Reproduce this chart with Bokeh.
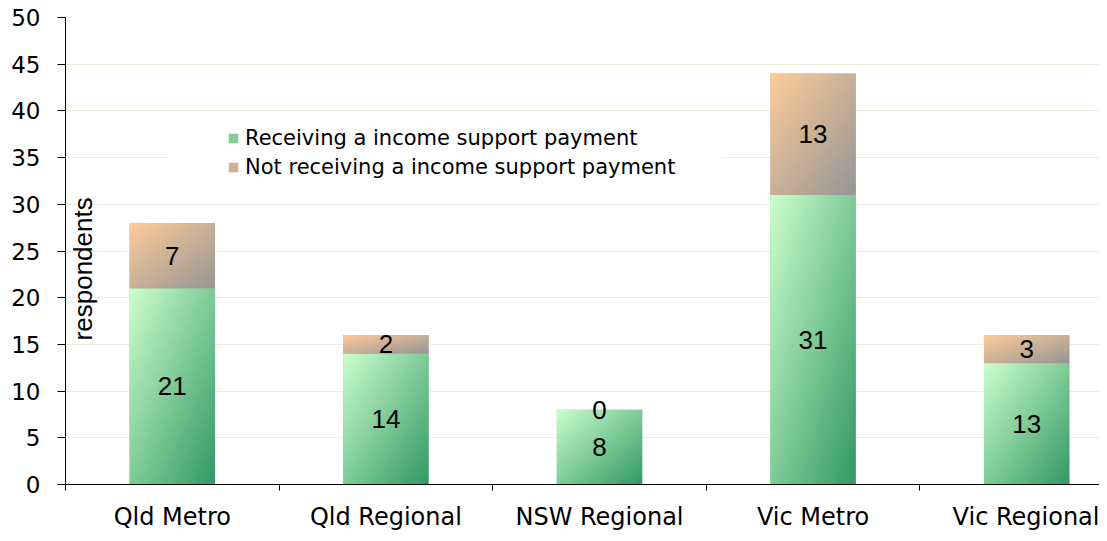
import numpy as np
from bokeh.plotting import figure
from bokeh.models import (FixedTicker, Range1d, Label, ColumnDataSource, Legend,
                          LegendItem, BoxAnnotation)
from bokeh.embed import file_html
from bokeh.resources import INLINE
from bokeh.core.properties import value

# ---- data ----
categories = ["Qld Metro", "Qld Regional", "NSW Regional", "Vic Metro", "Vic Regional"]
receiving = [21, 14, 8, 31, 13]
not_receiving = [7, 2, 0, 13, 3]
series_names = ["Receiving a income support payment",
                "Not receiving a income support payment"]
y_ticks = list(range(0, 51, 5))

# ---- styles ----
GREEN_TL, GREEN_BR = (204, 255, 204), (51, 153, 102)
ORANGE_TL, ORANGE_BR = (255, 204, 153), (150, 150, 150)
GREEN_MID, ORANGE_MID = "#86CC99", "#CDB298"
BAR_W = 0.4


def gradient(c0, c1, w=80, h=160):
    xs = np.linspace(0, 1, w)[None, :]
    ys = np.linspace(1, 0, h)[:, None]   # row 0 is the bottom of the image
    t = (xs + ys) / 2.0
    c0 = np.array(c0, dtype=float)
    c1 = np.array(c1, dtype=float)
    rgb = c0[None, None, :] + (c1 - c0)[None, None, :] * t[..., None]
    img = np.empty((h, w), dtype=np.uint32)
    view = img.view(dtype=np.uint8).reshape((h, w, 4))
    view[..., :3] = np.clip(rgb, 0, 255).astype(np.uint8)
    view[..., 3] = 255
    return img


n = len(categories)
centers = list(range(n))
stack_top = [r + q for r, q in zip(receiving, not_receiving)]

p = figure(width=1099, height=533, output_backend="svg", toolbar_location=None,
           x_range=Range1d(-0.5, 4.341), y_range=Range1d(0, 50),
           min_border_left=65, min_border_right=0, min_border_top=17,
           min_border_bottom=46)
p.outline_line_color = None
p.background_fill_color = "white"
p.border_fill_color = "white"

# white box behind the legend
box = BoxAnnotation(left=-0.018, right=2.571, top=39.3, bottom=31.0,
                    fill_color="white", fill_alpha=1.0, line_color=None)
p.add_layout(box)

# solid base bars (also used as legend glyphs), covered by gradient images
r_g = p.vbar(x=centers, width=BAR_W, bottom=0, top=receiving,
             fill_color=GREEN_MID, line_color=None)
r_o = p.vbar(x=centers, width=BAR_W, bottom=receiving, top=stack_top,
             fill_color=ORANGE_MID, line_color=None)

# stacked gradient bars
imgs, xs, ys, dws, dhs = [], [], [], [], []
for i in range(n):
    if receiving[i] > 0:
        imgs.append(gradient(GREEN_TL, GREEN_BR))
        xs.append(centers[i] - BAR_W / 2)
        ys.append(0)
        dws.append(BAR_W)
        dhs.append(receiving[i])
    if not_receiving[i] > 0:
        imgs.append(gradient(ORANGE_TL, ORANGE_BR))
        xs.append(centers[i] - BAR_W / 2)
        ys.append(receiving[i])
        dws.append(BAR_W)
        dhs.append(not_receiving[i])
p.image_rgba(image=imgs, x=xs, y=ys, dw=dws, dh=dhs)

# data labels
lab_x = centers + centers
lab_y = [r / 2 for r in receiving] + [r + q / 2 for r, q in zip(receiving, not_receiving)]
lab_t = [str(v) for v in receiving] + [str(v) for v in not_receiving]
src = ColumnDataSource(dict(x=lab_x, y=lab_y, t=lab_t))
p.text(x="x", y="y", text="t", source=src, text_align="center",
       text_baseline="middle", text_font=value("Liberation Sans"),
       text_font_size="26px", text_color="black")

legend = Legend(items=[LegendItem(label=series_names[0], renderers=[r_g]),
                       LegendItem(label=series_names[1], renderers=[r_o])],
                location=(162, 305), padding=0, margin=0, spacing=4,
                glyph_width=12, glyph_height=12, label_height=25, label_standoff=6,
                label_text_font="DejaVu Sans", label_text_font_size="21px",
                label_text_color="black", background_fill_alpha=0,
                border_line_color=None)
p.add_layout(legend, "center")

# y axis title inside plot
p.add_layout(Label(x=-0.4204, y=23.09, text="respondents", angle=np.pi / 2,
                   text_align="center", text_baseline="alphabetic",
                   text_font="Liberation Sans", text_font_size="26px",
                   text_color="black"))

# axes
p.yaxis.ticker = FixedTicker(ticks=y_ticks)
p.yaxis.major_tick_out = 8
p.yaxis.major_tick_in = 0
p.yaxis.minor_tick_line_color = None
p.yaxis.major_label_standoff = 17
p.yaxis.major_label_text_font = "DejaVu Sans"
p.yaxis.major_label_text_font_size = "23px"
p.yaxis.major_label_text_color = "black"
p.yaxis.axis_line_color = "black"
p.yaxis.major_tick_line_color = "black"

boundaries = [c - 0.5 for c in centers] + [centers[-1] + 0.5]
p.xaxis.ticker = FixedTicker(ticks=centers, minor_ticks=boundaries)
p.xaxis.major_label_overrides = {c: name for c, name in zip(centers, categories)}
p.xaxis.major_tick_line_color = None
p.xaxis.major_tick_out = 0
p.xaxis.major_tick_in = 0
p.xaxis.minor_tick_out = 6
p.xaxis.minor_tick_in = 0
p.xaxis.minor_tick_line_color = "black"
p.xaxis.major_label_standoff = 12
p.xaxis.major_label_text_font = "DejaVu Sans"
p.xaxis.major_label_text_font_size = "24px"
p.xaxis.major_label_text_color = "black"
p.xaxis.axis_line_color = "black"

p.xgrid.visible = False
p.ygrid.ticker = FixedTicker(ticks=y_ticks)
p.ygrid.grid_line_color = "#EEECDF"
p.ygrid.grid_line_width = 1

open("out.html", "w").write(file_html(p, INLINE))
